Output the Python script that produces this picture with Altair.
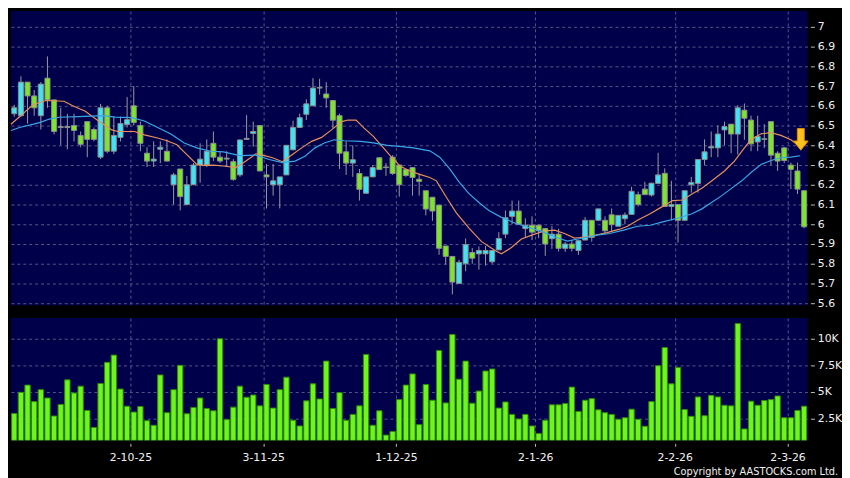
import altair as alt
import pandas as pd

# ---------------- data ----------------
opens = [6.56, 6.55, 6.72, 6.65, 6.55, 6.74, 6.63, 6.49, 6.49, 6.50,
         6.45, 6.52, 6.48, 6.34, 6.59, 6.37, 6.44, 6.505, 6.60, 6.50,
         6.36, 6.32, 6.38, 6.37, 6.20, 6.28, 6.10, 6.20, 6.30, 6.30,
         6.41, 6.34, 6.33, 6.317, 6.25, 6.43, 6.46, 6.50, 6.25, 6.20,
         6.20, 6.25, 6.377, 6.49, 6.557, 6.60, 6.69, 6.66, 6.627, 6.55,
         6.367, 6.31, 6.257, 6.157, 6.24, 6.337, 6.287, 6.34, 6.30, 6.277,
         6.287, 6.228, 6.17, 6.137, 6.097, 5.89, 5.837, 5.70, 5.80, 5.857,
         5.85, 5.85, 5.81, 5.87, 5.95, 6.04, 6.067, 5.978, 5.995, 5.995,
         5.978, 5.927, 5.95, 5.878, 5.90, 5.867, 5.92, 6.02, 6.02, 6.02,
         6.048, 5.99, 6.028, 6.05, 6.15, 6.178, 6.148, 6.207, 6.258, 6.09,
         6.10, 6.02, 6.20, 6.207, 6.328, 6.387, 6.387, 6.478, 6.507, 6.457,
         6.578, 6.528, 6.417, 6.43, 6.52, 6.36, 6.387, 6.30, 6.27, 6.17]
highs = [6.605, 6.75, 6.72, 6.68, 6.72, 6.85, 6.63, 6.59, 6.56, 6.56,
         6.47, 6.52, 6.49, 6.61, 6.60, 6.545, 6.545, 6.645, 6.70, 6.52,
         6.39, 6.42, 6.42, 6.43, 6.26, 6.28, 6.245, 6.31, 6.41, 6.43,
         6.47, 6.37, 6.37, 6.33, 6.43, 6.553, 6.52, 6.50, 6.305, 6.305,
         6.24, 6.40, 6.525, 6.56, 6.633, 6.74, 6.737, 6.72, 6.627, 6.56,
         6.42, 6.40, 6.28, 6.24, 6.30, 6.337, 6.31, 6.35, 6.30, 6.28,
         6.29, 6.255, 6.17, 6.137, 6.097, 5.89, 5.837, 5.82, 5.928, 5.88,
         5.887, 5.89, 5.867, 5.96, 6.07, 6.12, 6.12, 6.03, 6.04, 6.00,
         5.98, 5.99, 5.977, 5.91, 5.92, 5.92, 6.037, 6.02, 6.078, 6.04,
         6.08, 6.045, 6.06, 6.19, 6.165, 6.215, 6.21, 6.362, 6.283, 6.22,
         6.10, 6.17, 6.24, 6.33, 6.43, 6.47, 6.50, 6.52, 6.507, 6.603,
         6.612, 6.55, 6.55, 6.507, 6.52, 6.37, 6.39, 6.312, 6.312, 6.17]
lows = [6.545, 6.545, 6.51, 6.55, 6.48, 6.59, 6.455, 6.40, 6.38, 6.42,
        6.39, 6.34, 6.42, 6.33, 6.36, 6.355, 6.42, 6.49, 6.50, 6.37,
        6.29, 6.29, 6.31, 6.32, 6.10, 6.07, 6.095, 6.20, 6.21, 6.29,
        6.32, 6.31, 6.29, 6.22, 6.24, 6.43, 6.393, 6.27, 6.08, 6.145,
        6.08, 6.25, 6.377, 6.49, 6.528, 6.60, 6.657, 6.59, 6.487, 6.28,
        6.25, 6.24, 6.12, 6.157, 6.24, 6.277, 6.245, 6.25, 6.14, 6.24,
        6.145, 6.145, 6.045, 6.017, 5.845, 5.795, 5.645, 5.70, 5.762, 5.80,
        5.77, 5.79, 5.80, 5.87, 5.93, 6.00, 6.00, 5.93, 5.92, 5.93,
        5.84, 5.875, 5.862, 5.86, 5.862, 5.845, 5.92, 5.912, 6.02, 5.95,
        5.96, 5.99, 6.00, 6.05, 6.09, 6.15, 6.14, 6.207, 6.09, 6.02,
        5.907, 6.02, 6.16, 6.16, 6.30, 6.34, 6.34, 6.40, 6.36, 6.353,
        6.428, 6.37, 6.37, 6.387, 6.30, 6.27, 6.31, 6.178, 6.153, 5.98]
closes = [6.59, 6.72, 6.65, 6.59, 6.71, 6.63, 6.47, 6.495, 6.495, 6.475,
          6.405, 6.43, 6.43, 6.59, 6.37, 6.45, 6.51, 6.53, 6.515, 6.41,
          6.32, 6.33, 6.39, 6.32, 6.25, 6.14, 6.20, 6.30, 6.33, 6.37,
          6.34, 6.32, 6.335, 6.227, 6.427, 6.435, 6.47, 6.27, 6.24, 6.22,
          6.24, 6.40, 6.49, 6.54, 6.61, 6.69, 6.693, 6.64, 6.527, 6.36,
          6.31, 6.327, 6.177, 6.24, 6.287, 6.277, 6.29, 6.257, 6.20, 6.247,
          6.237, 6.217, 6.077, 6.067, 5.878, 5.837, 5.707, 5.807, 5.897, 5.828,
          5.867, 5.867, 5.867, 5.928, 6.033, 6.067, 6.00, 5.995, 5.96, 5.967,
          5.90, 5.95, 5.878, 5.90, 5.878, 5.917, 6.02, 5.933, 6.078, 5.967,
          5.998, 6.045, 6.047, 6.167, 6.10, 6.15, 6.208, 6.25, 6.09, 6.10,
          6.02, 6.17, 6.212, 6.328, 6.367, 6.393, 6.457, 6.495, 6.457, 6.59,
          6.537, 6.407, 6.445, 6.433, 6.35, 6.32, 6.323, 6.278, 6.178, 5.987]
volumes_k = [2.99, 4.97, 5.65, 4.10, 5.22, 4.44, 2.75, 3.83, 6.14, 4.91,
             5.55, 3.27, 1.67, 5.80, 7.78, 8.46, 5.28, 3.67, 3.12, 3.64,
             2.31, 1.88, 6.60, 3.06, 5.22, 7.50, 2.96, 3.55, 4.44, 3.46,
             3.24, 10.0, 2.41, 3.58, 5.55, 4.51, 4.72, 3.70, 5.71, 3.49,
             5.22, 6.39, 2.35, 1.82, 4.17, 5.77, 4.35, 7.90, 3.46, 4.94,
             2.35, 2.90, 3.70, 8.52, 1.88, 3.24, 0.96, 1.30, 4.29, 5.65,
             6.70, 1.94, 5.71, 4.23, 8.89, 3.98, 10.40, 6.20, 7.90, 3.95,
             5.09, 6.97, 7.16, 3.49, 4.07, 2.90, 2.47, 2.90, 1.82, 1.11,
             2.35, 3.80, 3.80, 3.92, 5.46, 3.18, 4.23, 4.38, 3.33, 3.06,
             2.90, 2.44, 2.59, 3.39, 2.44, 1.79, 4.10, 7.47, 9.17, 5.77,
             7.31, 3.36, 2.72, 4.54, 2.78, 4.69, 4.54, 3.76, 3.70, 11.42,
             1.54, 4.14, 3.76, 4.20, 4.29, 4.63, 2.59, 2.59, 3.27, 3.67]

# moving-average lines (bar index, price)
ma_short_idx = [-0.5, 0.8, 1.9, 2.9, 3.8, 4.8, 7.5, 8.8, 10.7, 12.7, 14.7, 15.6, 18.1,
                19.6, 21.6, 23.0, 24.5, 26.0, 27.5, 28.5, 30.0, 31.5, 33.4, 34.9, 36.4,
                37.4, 38.9, 40.4, 41.9, 43.3, 44.8, 46.3, 47.8, 49.3, 50.3, 51.5, 52.7,
                54.1, 55.2, 56.7, 58.1, 59.6, 61.1, 62.6, 63.6, 65.1, 66.6, 68.5, 70.4,
                72.5, 73.4, 74.9, 76.4, 78.4, 79.9, 81.4, 82.9, 84.4, 85.3, 87.3, 89.3,
                91.2, 92.4, 93.9, 95.8, 97.3, 99.2, 100.7, 102.1, 103.6, 105.1, 107.0,
                108.5, 110.0, 111.0, 112.5, 114.0, 115.5, 117.0, 118.1]
ma_short_val = [6.507, 6.545, 6.578, 6.607, 6.617, 6.627, 6.623, 6.60, 6.573, 6.523, 6.478,
                6.47, 6.47, 6.453, 6.437, 6.423, 6.403, 6.353, 6.303, 6.298, 6.30, 6.295,
                6.287, 6.32, 6.357, 6.35, 6.337, 6.317, 6.353, 6.387, 6.42, 6.44, 6.478,
                6.52, 6.528, 6.528, 6.487, 6.445, 6.403, 6.345, 6.295, 6.27, 6.253, 6.237,
                6.22, 6.137, 6.058, 5.98, 5.912, 5.866, 5.85, 5.882, 5.925, 5.95, 5.966,
                5.97, 5.953, 5.93, 5.933, 5.943, 5.958, 5.975, 5.99, 6.02, 6.053, 6.083,
                6.12, 6.123, 6.153, 6.183, 6.22, 6.27, 6.32, 6.387, 6.428, 6.458, 6.464,
                6.45, 6.428, 6.40]
ma_long_idx = [-0.5, 0.8, 2.9, 3.8, 5.3, 6.7, 9.7, 13.3, 15.2, 17.7, 19.6, 21.6, 23.6,
               25.6, 27.5, 29.6, 31.5, 34.0, 36.4, 38.4, 40.4, 42.3, 43.8, 45.3, 46.7,
               48.2, 49.7, 52.2, 54.1, 56.2, 58.1, 60.1, 62.6, 64.1, 65.6, 67.0, 68.5,
               70.0, 71.5, 73.4, 75.5, 77.4, 79.3, 81.4, 83.3, 85.3, 87.8, 89.7, 91.8,
               93.9, 95.8, 97.7, 100.2, 102.1, 103.6, 105.1, 106.6, 108.1, 109.6, 111.0,
               112.5, 114.0, 115.5, 117.0, 118.4]
ma_long_val = [6.475, 6.49, 6.507, 6.515, 6.533, 6.542, 6.545, 6.55, 6.543, 6.54, 6.523,
               6.49, 6.457, 6.412, 6.387, 6.37, 6.367, 6.348, 6.35, 6.328, 6.312, 6.32,
               6.345, 6.387, 6.412, 6.428, 6.423, 6.42, 6.412, 6.40, 6.395, 6.387, 6.372,
               6.34, 6.28, 6.215, 6.155, 6.11, 6.07, 6.035, 6.005, 5.985, 5.965, 5.937,
               5.915, 5.928, 5.945, 5.953, 5.97, 5.99, 5.995, 6.012, 6.033, 6.053, 6.078,
               6.112, 6.145, 6.183, 6.22, 6.262, 6.303, 6.323, 6.337, 6.34, 6.347]

tick_idx = [17.5, 37.5, 57.5, 78.5, 99.5, 116.5]
tick_labels = ["2-10-25", "3-11-25", "1-12-25", "2-1-26", "2-2-26", "2-3-26"]
price_ticks = [5.6, 5.7, 5.8, 5.9, 6.0, 6.1, 6.2, 6.3, 6.4, 6.5, 6.6, 6.7, 6.8, 6.9, 7.0]
vol_ticks = [2.5, 5, 7.5, 10]
arrow_idx = [118.5]
arrow_price = [6.43]
copyright = "Copyright by AASTOCKS.com Ltd."

# ---------------- styling ----------------
BG = "#000000"
PLOT = "#00004a"
GRID = "#56568a"
CYAN = "#3fe3f2"
GREEN = "#7de52b"
VOLG = "#6ef51e"
TXT = "#f0f0f0"
FONT = "DejaVu Sans"
W = 807
PH = 298
VH = 124

df = pd.DataFrame({
    "idx": list(range(len(opens))),
    "open": opens, "high": highs, "low": lows, "close": closes, "vol": volumes_k,
})
df["dir"] = ["up" if c >= o else "down" for o, c in zip(opens, closes)]
ma_s = pd.DataFrame({"idx": ma_short_idx, "v": ma_short_val})
ma_l = pd.DataFrame({"idx": ma_long_idx, "v": ma_long_val})
arrow_df = pd.DataFrame({"idx": arrow_idx, "p": arrow_price})

label_expr = ""
for t, l in zip(tick_idx, tick_labels):
    label_expr += f"datum.value == {t} ? '{l}' : "
label_expr += "''"

xscale = alt.Scale(domain=[-0.5, 119.5], nice=False, zero=False)
x_axis_top = alt.Axis(values=tick_idx, labels=False, ticks=False, domain=False,
                      grid=True, gridColor=GRID, gridDash=[3, 3], title=None)
x_axis_bot = alt.Axis(values=tick_idx, labelExpr=label_expr, ticks=True, tickSize=3,
                      tickColor="#c0c0c0", domain=False, grid=True, gridColor=GRID,
                      gridDash=[3, 3], title=None, labelColor=TXT, labelFont=FONT,
                      labelFontSize=11, labelPadding=5, offset=3)

yscale = alt.Scale(domain=[5.59, 7.08], nice=False, zero=False)
y_axis = alt.Axis(values=price_ticks, orient="right", format=".1~f", grid=True,
                  gridColor=GRID, gridDash=[3, 3], domain=False, tickSize=4,
                  tickColor="#c0c0c0", labelColor=TXT, labelFont=FONT, labelFontSize=11,
                  labelPadding=3, offset=3, title=None)

X = alt.X("idx:Q", scale=xscale, axis=x_axis_top)

wicks = alt.Chart(df).mark_rule(color="#9a9a9a", strokeWidth=1).encode(
    x=X, y=alt.Y("low:Q", scale=yscale, axis=y_axis), y2="high:Q")

bodies = alt.Chart(df).transform_calculate(
    xa="datum.idx - 0.38", xb="datum.idx + 0.38"
).mark_rect(stroke="#8c8c8c", strokeWidth=1).encode(
    x=alt.X("xa:Q", scale=xscale, axis=x_axis_top),
    x2="xb:Q",
    y=alt.Y("open:Q", scale=yscale, axis=y_axis),
    y2="close:Q",
    color=alt.Color("dir:N", scale=alt.Scale(domain=["up", "down"], range=[CYAN, GREEN]),
                    legend=None),
)

line_s = alt.Chart(ma_s).mark_line(color="#e8905a", strokeWidth=1.2).encode(
    x=X, y=alt.Y("v:Q", scale=yscale, axis=y_axis))
line_l = alt.Chart(ma_l).mark_line(color="#3aa6e6", strokeWidth=1.2).encode(
    x=X, y=alt.Y("v:Q", scale=yscale, axis=y_axis))

arrow_path = "M-0.32,-1 L0.32,-1 L0.32,0.15 L0.68,0.15 L0,1 L-0.68,0.15 L-0.32,0.15 Z"
arrow = alt.Chart(arrow_df).mark_point(
    shape=arrow_path, size=480, filled=True, fill="#f9c21c", stroke="#e08a00",
    strokeWidth=1, opacity=1
).encode(x=X, y=alt.Y("p:Q", scale=yscale, axis=y_axis))

price = alt.layer(wicks, bodies, line_s, line_l, arrow).properties(width=W, height=PH)

# ---------------- volume panel ----------------
vscale = alt.Scale(domain=[0.46, 11.94], nice=False, zero=False)
v_axis = alt.Axis(values=vol_ticks, orient="right", labelExpr="datum.value + 'K'",
                  grid=True, gridColor=GRID, gridDash=[3, 3], domain=False, tickSize=4,
                  tickColor="#c0c0c0", labelColor=TXT, labelFont=FONT, labelFontSize=11,
                  labelPadding=3, offset=3, title=None)

vbars = alt.Chart(df).transform_calculate(
    xa="datum.idx - 0.4", xb="datum.idx + 0.4"
).mark_rect(fill=VOLG, stroke="#2f8a06", strokeWidth=1, clip=True).encode(
    x=alt.X("xa:Q", scale=xscale, axis=x_axis_bot),
    x2="xb:Q",
    y=alt.Y("vol:Q", scale=vscale, axis=v_axis),
    y2=alt.value(VH),
)

copy_df = pd.DataFrame({"t": [copyright]})
copy_txt = alt.Chart(copy_df).mark_text(
    align="right", baseline="middle", font="DejaVu Sans Condensed", fontSize=11,
    color=TXT
).encode(x=alt.value(838), y=alt.value(156), text="t:N")

volume = alt.layer(vbars, copy_txt).properties(width=W, height=VH)

chart = alt.vconcat(price, volume, spacing=13, bounds="flush").properties(
    padding=0, background=BG
).configure_view(fill=PLOT, strokeWidth=0)

chart.save("out.html", embed_options={"renderer": "svg", "actions": False})
